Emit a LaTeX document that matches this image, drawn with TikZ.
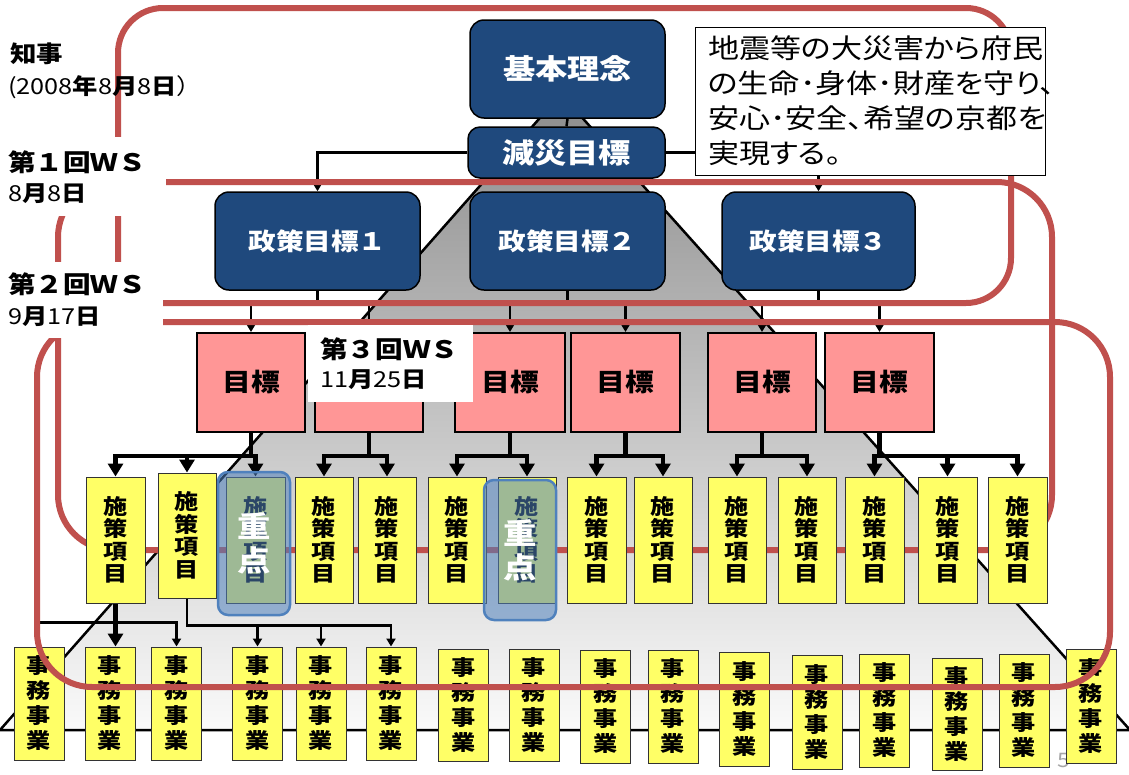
\documentclass[tikz,border=0pt]{standalone}
\usepackage{fontspec}
\setmainfont{Noto Sans CJK JP}[FakeStretch=1.15]
\newfontfamily\propjp{Noto Sans CJK JP}[FakeStretch=1.15,RawFeature=+palt]
\usetikzlibrary{arrows.meta}
\definecolor{navyc}{RGB}{31,73,125}
\definecolor{wsred}{RGB}{192,80,77}
\definecolor{pinkc}{RGB}{255,150,150}
\definecolor{ylw}{RGB}{255,255,102}
\definecolor{zblue}{RGB}{79,129,189}
\newcommand{\fs}[2]{\fontsize{#1}{#2}\selectfont}
\newcommand{\sesakuT}{施\\策\\項\\目}
\newcommand{\jimuT}{事\\務\\事\\業}
\pgfdeclarelayer{back}
\pgfdeclarelayer{conn}
\pgfdeclarelayer{navyl}
\pgfdeclarelayer{redA}
\pgfdeclarelayer{tboxl}
\pgfdeclarelayer{items}
\pgfdeclarelayer{jimul}
\pgfsetlayers{back,conn,navyl,redA,tboxl,items,jimul,main}
\begin{document}
\begin{tikzpicture}[x=1pt,y=-1pt,
  navybox/.style={draw=black,line width=1.5pt,fill=navyc,rounded corners=14pt,text=white,inner sep=0pt,font=\bfseries\fs{28}{30}},
  goalbox/.style={draw=black,line width=2pt,fill=pinkc,inner sep=0pt,font=\bfseries\fs{25}{27}},
  itembox/.style={draw=black!80,line width=1pt,fill=ylw,inner sep=0pt,align=center,font=\bfseries\fs{21}{22.5}},
  jimubox/.style={draw=black!80,line width=1pt,fill=ylw,inner sep=0pt,align=center,minimum width=50,font=\bfseries\fs{21}{25}},
  zten/.style={draw=zblue,line width=2.5pt,fill=zblue,fill opacity=0.55,text opacity=1,text=white,rounded corners=10pt,inner sep=0pt,align=center,font=\bfseries\fs{29}{34}},
  redloop/.style={draw=wsred,line width=6pt},
  thinln/.style={draw=black,line width=2.5pt},
  thinarr/.style={draw=black,line width=2.5pt,-{Triangle[width=9pt,length=8pt]}},
  thickarr/.style={draw=black,line width=4.5pt,-{Triangle[width=15pt,length=13pt]}},
  lbl/.style={inner sep=0pt,anchor=west,font=\fs{24}{26}}
]
\useasboundingbox (0,0) rectangle (1129,774);

% navy boxes
\begin{pgfonlayer}{navyl}
\node[navybox,minimum width=195,minimum height=98] (kihon) at (567.5,69) {基本理念};
\node[navybox,minimum width=197,minimum height=51,rounded corners=12pt] (gensai) at (566.5,152.5) {減災目標};
\node[navybox,font=\bfseries\fs{24}{26},minimum width=205,minimum height=98] (sei1) at (317.5,241) {政策目標１};
\node[navybox,font=\bfseries\fs{24}{26},minimum width=195,minimum height=98] (sei2) at (567.5,241) {政策目標２};
\node[navybox,font=\bfseries\fs{24}{26},minimum width=193,minimum height=98] (sei3) at (818.5,241) {政策目標３};
\end{pgfonlayer}

% text box
\begin{pgfonlayer}{tboxl}
\node[draw=black,line width=1pt,fill=white,minimum width=350,minimum height=148,inner sep=0pt,text width=324,align=left,font=\propjp\fs{27}{35}] (tb) at (870,101) {地震等の大災害から府民\\の生命･身体･財産を守り、\\安心･安全、希望の京都を\\実現する。};
\end{pgfonlayer}

% goals and items
\begin{pgfonlayer}{items}
\foreach \n/\cx/\w in {1/251/108,2/369/108,3/510/110,4/625.5/109,5/762/108,6/879.5/109}
  \node[goalbox,minimum width=\w,minimum height=99] (m\n) at (\cx,382.5) {目標};
\foreach \n/\cx/\w in {1/115.5/59,3/255.5/59,4/324/58,5/387/58,6/457/58,7/527/58,8/596.5/59,9/663/58,10/737/58,11/807/58,12/874.5/59,13/947.5/59,14/1017.5/59}
  \node[itembox,minimum width=\w,minimum height=126] (s\n) at (\cx,540) {\sesakuT};
\node[itembox,minimum width=58,minimum height=125] (s2) at (187,535.5) {\sesakuT};
\node[zten,minimum width=72,minimum height=143] (z1) at (254,543.5) {重\\点};
\node[zten,minimum width=72,minimum height=140] (z2) at (520,550) {重\\点};
\end{pgfonlayer}

% jimu boxes
\begin{pgfonlayer}{jimul}
\node[text=black!35,inner sep=0pt,font=\fs{20}{20}] (pgno) at (1064,760) {5};
\foreach \n/\cx/\t/\b in {1/39/647/760,2/110/647/760,3/176.5/647/760,4/257.5/647/760,5/321/647/760,6/391/647/760,7/463.5/649/761,8/534/649/761,9/605.5/650/763,10/673/650/763,11/744.5/652/766,12/817/655/769,13/884.5/654/767,14/957/658/770,15/1024/654/767,16/1091/649/763}
  \node[jimubox,minimum height=\b-\t] (j\n) at (\cx,{(\t+\b)/2}) {\jimuT};
\end{pgfonlayer}

% pyramid
\begin{pgfonlayer}{back}
\fill[white] (0,0) rectangle (1129,774);
\shade[top color=black!45,bottom color=black!2] (561,94) -- (0,730) -- (1130,730) -- cycle;
\draw[line width=2.5pt] (561,94) -- (0,730) -- (1130,730) -- cycle;
\end{pgfonlayer}

% connectors
\begin{pgfonlayer}{conn}
\draw[thinln] (kihon.south) -- (gensai.north);
\draw[thinarr] (gensai.west) -| (sei1.north);
\draw[thinarr] (gensai.east) -| (sei3.north);
\foreach \p/\c in {sei1/m1,sei1/m2,sei2/m3,sei2/m4,sei3/m5,sei3/m6}
  \draw[thinarr] (\p.south) -- ++(0,13) -| (\c.north);
\foreach \p/\c in {m1/s1,m1/s2,m1/s3,m2/s4,m2/s5,m3/s6,m3/s7,m4/s8,m4/s9,m5/s10,m5/s11,m6/s12,m6/s13,m6/s14}
  \draw[thickarr] (\p.south) -- ++(0,23) -| (\c.north);
\draw[thickarr] (s1.south) -- (s1.south |- j2.north);
\draw[thinln] (s1.south) -- ++(0,19) coordinate (s1bus) -- (s1bus -| j1.north);
\draw[thinarr] (s1bus) -| (j3.north);
\foreach \c in {j4,j5,j6}
  \draw[thinarr] (s2.south) -- ++(0,27) -| (\c.north);
\end{pgfonlayer}

% red loops behind
\begin{pgfonlayer}{redA}
\draw[redloop,rounded corners=45pt] (118,8) rectangle (1011,303);
\draw[redloop,rounded corners=55pt] (58,182) rectangle (1052,550);
\end{pgfonlayer}

% red loop on top
\draw[redloop,rounded corners=55pt] (37,322) rectangle (1110,687);

% labels
\fill[white] (0,137) rectangle (166,216);
\fill[white] (0,262) rectangle (163,338);
\node[fill=white,minimum width=165,minimum height=77,inner sep=0pt,anchor=north west] (ws3box) at (308,325) {};
\node[lbl,font=\bfseries\fs{23}{25}] (chiji) at (10,54) {知事};
\node[lbl,font=\fs{22}{24}] (chijid) at (8,87) {(2008{\bfseries 年}8{\bfseries 月}8{\bfseries 日}）};
\node[lbl,font=\bfseries\fs{24}{26}] (ws1) at (8,162) {第１回ＷＳ};
\node[lbl,font=\fs{22}{24}] (ws1d) at (8,194) {8{\bfseries 月}8{\bfseries 日}};
\node[lbl,font=\bfseries\fs{24}{26}] (ws2) at (8,284) {第２回ＷＳ};
\node[lbl,font=\fs{22}{24}] (ws2d) at (8,317) {9{\bfseries 月}17{\bfseries 日}};
\node[lbl,font=\bfseries\fs{24}{26}] (ws3) at (320,349) {第３回ＷＳ};
\node[lbl,font=\fs{22}{24}] (ws3d) at (320,380) {11{\bfseries 月}25{\bfseries 日}};
\end{tikzpicture}
\end{document}
